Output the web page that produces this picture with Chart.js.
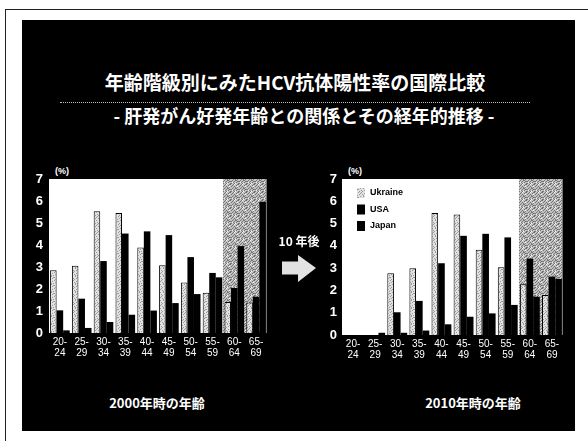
<!DOCTYPE html>
<html lang="ja">
<head>
<meta charset="utf-8">
<title>年齢階級別にみたHCV抗体陽性率の国際比較</title>
<script src="https://cdn.jsdelivr.net/npm/chart.js@4"></script>
<style>
  html, body { margin: 0; padding: 0; background: #fff; }
  body { position: relative; width: 588px; height: 441px; overflow: hidden;
         font-family: "Noto Sans CJK JP", "Noto Sans", sans-serif; }
  #frame { position: absolute; left: 5px; top: 9px; width: 620px; height: 460px;
           border-left: 1px solid #222; border-top: 1px solid #222; }
  #slide { position: absolute; left: 22px; top: 20px; width: 553px; height: 411px; background: #000; }
  .t { position: absolute; color: #fff; white-space: nowrap; transform: translate(-50%, -50%); line-height: 1; }
  #title { left: 295px; top: 81px; font-size: 19px; font-weight: 700; }
  #rule { position: absolute; left: 60px; top: 102px; width: 470px; height: 0; border-top: 1px dotted #bbb; }
  #subtitle { left: 304px; top: 115px; font-size: 18px; font-weight: 700; }
  .pct { top: 171px; font-family: "Liberation Sans", sans-serif; font-size: 9px; font-weight: 700; }
  #later { left: 299px; top: 241px; font-size: 12px; font-weight: 700; }
  .foot { top: 402px; font-size: 13px; font-weight: 700; }
  canvas { position: absolute; }
  #arrow { position: absolute; left: 280px; top: 253px; }
</style>
</head>
<body>
<div id="frame"></div>
<div id="slide"></div>

<div class="t" id="title">年齢階級別にみたHCV抗体陽性率の国際比較</div>
<div id="rule"></div>
<div class="t" id="subtitle">- 肝発がん好発年齢との関係とその経年的推移 -</div>

<div class="t pct" style="left:62px">(%)</div>
<div class="t pct" style="left:355px">(%)</div>

<canvas id="c2000" width="268" height="210" style="left:22px;top:160px;width:268px;height:210px"></canvas>
<canvas id="c2010" width="257" height="210" style="left:318px;top:160px;width:257px;height:210px"></canvas>

<div class="t" id="later">10 年後</div>
<svg id="arrow" width="40" height="32" viewBox="0 0 40 32">
  <polygon points="2,8.5 18,8.5 18,2 36,15 18,29 18,21.5 2,21.5" fill="#e2e2e2"/>
</svg>

<div class="t foot" style="left:157px">2000年時の年齢</div>
<div class="t foot" style="left:473px">2010年時の年齢</div>

<script>
// Age bands on the x axis (two-line tick labels)
const ageBands = [
  ['20-', '24'], ['25-', '29'], ['30-', '34'], ['35-', '39'], ['40-', '44'],
  ['45-', '49'], ['50-', '54'], ['55-', '59'], ['60-', '64'], ['65-', '69']
];
const seriesNames = ['Ukraine', 'USA', 'Japan'];
const yTicks = [0, 1, 2, 3, 4, 5, 6, 7];

// Anti-HCV positive rate (%) by age in 2000
const ukraine2000 = [2.85, 3.06, 5.53, 5.45, 3.89, 3.08, 2.29, 1.83, 1.41, 1.39];
const usa2000     = [1.03, 1.56, 3.27, 4.52, 4.62, 4.45, 3.45, 2.73, 2.05, 1.65];
const japan2000   = [0.12, 0.23, 0.50, 0.83, 1.02, 1.36, 1.77, 2.53, 3.95, 5.97];

// The same cohorts ten years later (age in 2010)
const ukraine2010 = [0, 0, 2.77, 3.00, 5.47, 5.41, 3.82, 3.04, 2.28, 1.80];
const usa2010     = [0, 0, 1.02, 1.53, 3.22, 4.45, 4.54, 4.38, 3.43, 2.62];
const japan2010   = [0, 0.10, 0.10, 0.20, 0.48, 0.82, 0.97, 1.35, 1.72, 2.52];

// Grainy dotted fills used for the Ukraine bars and the shaded age range
const grainDots = [[0, 0], [3, 0], [6, 1], [1, 2], [4, 2], [7, 3], [2, 4], [5, 4],
                   [0, 5], [3, 6], [6, 6], [1, 7], [4, 7], [7, 5], [2, 1], [5, 3]];
const extraDots = [[6, 4], [1, 5], [4, 5], [3, 3], [0, 7], [7, 0]];
const lightDots = [[2, 6], [5, 7], [7, 2], [4, 0]];

function stipple(bg, dot, cells, light) {
  const c = document.createElement('canvas');
  c.width = 8; c.height = 8;
  const g = c.getContext('2d');
  g.fillStyle = bg; g.fillRect(0, 0, 8, 8);
  g.fillStyle = dot;
  cells.forEach(([x, y]) => g.fillRect(x, y, 1, 1));
  g.fillStyle = '#f4f4f4';
  light.forEach(([x, y]) => g.fillRect(x, y, 1, 1));
  return g.createPattern(c, 'repeat');
}
const ukraineFill = stipple('#e2e2e2', '#9a9a9a', grainDots, []);
const shadeFill = stipple('#c2c2c2', '#757575', grainDots.concat(extraDots), lightDots);

// White plot panel and the shaded 60-69 band behind the bars
const panelPlugin = {
  id: 'panel',
  beforeDraw(chart) {
    const { ctx, chartArea: a } = chart;
    ctx.save();
    ctx.fillStyle = '#fff';
    ctx.fillRect(a.left, a.top, a.right - a.left, a.bottom - a.top);
    ctx.restore();
  },
  beforeDatasetsDraw(chart) {
    const { ctx, chartArea: a, scales: { x } } = chart;
    const x0 = Math.round((x.getPixelForValue(7) + x.getPixelForValue(8)) / 2);
    ctx.save();
    ctx.fillStyle = shadeFill;
    ctx.fillRect(x0, a.top, a.right - x0, a.bottom - a.top);
    ctx.fillStyle = '#777';
    ctx.fillRect(a.right - 1, a.top, 1, a.bottom - a.top);
    ctx.restore();
  }
};

// Series key drawn inside the upper-left corner of the plot
const keyPlugin = {
  id: 'boxKey',
  afterDatasetsDraw(chart, args, opts) {
    if (!opts.show) return;
    const { ctx, chartArea: a } = chart;
    ctx.save();
    ctx.font = 'bold 9px "Liberation Sans", sans-serif';
    ctx.textBaseline = 'middle';
    chart.data.datasets.forEach((ds, i) => {
      const y = a.top + 9 + i * 16.5;
      ctx.fillStyle = ds.backgroundColor;
      ctx.fillRect(a.left + 15, y, 8, 10);
      ctx.fillStyle = '#000';
      ctx.fillText(ds.label, a.left + 28, y + 5);
    });
    ctx.restore();
  }
};

function makeChart(id, uk, us, jp, geo, showKey) {
  return new Chart(document.getElementById(id), {
    type: 'bar',
    data: {
      labels: ageBands,
      datasets: [
        { label: seriesNames[0], data: uk, backgroundColor: ukraineFill, borderColor: '#000', borderWidth: 1 },
        { label: seriesNames[1], data: us, backgroundColor: '#000', borderWidth: 0 },
        { label: seriesNames[2], data: jp, backgroundColor: '#000', borderWidth: 0 }
      ]
    },
    options: {
      responsive: false,
      animation: false,
      devicePixelRatio: 1,
      layout: { padding: { top: 19, right: geo.padRight, left: 0, bottom: 0 } },
      datasets: { bar: { barPercentage: 1, categoryPercentage: 0.9 } },
      plugins: {
        legend: { display: false },
        tooltip: { enabled: false },
        boxKey: { show: showKey }
      },
      scales: {
        x: {
          grid: { display: false, drawTicks: false },
          border: { display: false },
          ticks: {
            color: '#fff', autoSkip: false, maxRotation: 0, padding: 3,
            font: { family: 'Liberation Sans', size: 10, lineHeight: 1.15 }
          },
          afterFit(s) { s.height = geo.xHeight; }
        },
        y: {
          min: yTicks[0],
          max: yTicks[yTicks.length - 1],
          afterBuildTicks(s) { s.ticks = yTicks.map(v => ({ value: v })); },
          grid: { display: false, drawTicks: false },
          border: { display: false },
          ticks: {
            color: '#fff', padding: geo.yPad,
            font: { family: 'Liberation Sans', size: 13, weight: 'bold' }
          },
          afterFit(s) { s.width = geo.yWidth; }
        }
      }
    },
    plugins: [panelPlugin, keyPlugin]
  });
}

makeChart('c2000', ukraine2000, usa2000, japan2000,
  { padRight: 23, yWidth: 27, xHeight: 37, yPad: 6 }, false);
makeChart('c2010', ukraine2010, usa2010, japan2010,
  { padRight: 12, yWidth: 24, xHeight: 35, yPad: 5 }, true);
</script>
</body>
</html>
